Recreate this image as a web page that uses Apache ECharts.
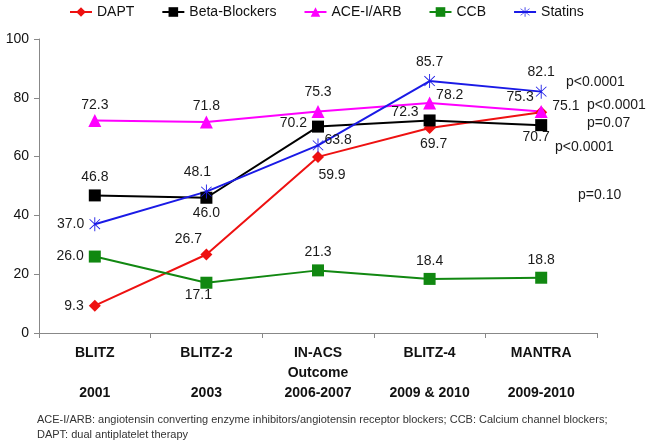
<!DOCTYPE html>
<html><head><meta charset="utf-8">
<script src="https://cdn.jsdelivr.net/npm/echarts@6/dist/echarts.min.js"></script>
<style>html,body{margin:0;padding:0;background:#fff}#c{width:650px;height:445px}</style>
</head><body><div id="c"></div>
<script>
const categories = ['BLITZ\n\n2001', 'BLITZ-2\n\n2003', 'IN-ACS\nOutcome\n2006-2007', 'BLITZ-4\n\n2009 & 2010', 'MANTRA\n\n2009-2010'];
const dapt = [9.3, 26.7, 59.9, 69.7, 75.1];
const betaBlockers = [46.8, 46.0, 70.2, 72.3, 70.7];
const aceArb = [72.3, 71.8, 75.3, 78.2, 75.3];
const ccb = [26.0, 17.1, 21.3, 18.4, 18.8];
const statins = [37.0, 48.1, 63.8, 85.7, 82.1];
const yTicks = [0, 20, 40, 60, 80, 100];
const pValues = ['p<0.0001', 'p<0.0001', 'p=0.07', 'p<0.0001', 'p=0.10'];
const footnote = 'ACE-I/ARB: angiotensin converting enzyme inhibitors/angiotensin receptor blockers; CCB: Calcium channel blockers;\nDAPT: dual antiplatelet therapy';

// label placement styling (position, offset, distance) per point
const labDapt = [['left',[0,0],5],['top',[-18,3],5],['bottom',[14,0],5],['bottom',[4,-2],5],['right',[0,-6],5]];
const labBeta = [['top',[0,0],5],['bottom',[0,-3],5],['left',[0,-3],5],['left',[0,-8],5],['bottom',[-5,-4],3]];
const labAce = [['top',[0,0],2],['top',[0,0],2],['top',[0,0],6],['right',[-5,-8],5],['left',[4,-14],5]];
const labCcb = [['left',[0,0],5],['bottom',[-8,-6],5],['top',[0,0],5],['top',[0,0],5],['top',[0,0],5]];
const labStat = [['left',[0,0],5],['top',[-9,0],5],['right',[-4,-5],5],['top',[0,0],5],['top',[0,0],5]];

const FONT = '"Liberation Sans", Arial, sans-serif';
const asterisk = 'path://M-0.6,-10L0.6,-10L0.6,10L-0.6,10Z M-7.4,-6.6L-6.6,-7.4L7.4,6.6L6.6,7.4Z M6.6,-7.4L7.4,-6.6L-6.6,7.4L-7.4,6.6Z';

function mk(values, labs) {
  return values.map((v, i) => ({
    value: v,
    label: { show: true, position: labs[i][0], offset: labs[i][1], distance: labs[i][2],
      formatter: (p) => p.value.toFixed(1) }
  }));
}
function series(name, values, labs, color, symbol, size) {
  return {
    name, type: 'line', data: mk(values, labs), symbol, symbolSize: size,
    lineStyle: { color, width: 2 }, itemStyle: { color },
    label: { color: '#1a1a1a', fontSize: 14, fontFamily: FONT },
    emphasis: { disabled: true }, animation: false, z: 3
  };
}

const chart = echarts.init(document.getElementById('c'), null, { renderer: 'canvas' });
const pPos = [[566, 83], [587, 106], [587, 124], [555, 148], [578, 196]];
chart.setOption({
  animation: false,
  backgroundColor: '#fff',
  legend: {
    top: 0, left: 64, itemGap: 27, itemWidth: 22, itemHeight: 12,
    textStyle: { fontSize: 14, fontFamily: FONT, color: '#111' },
    data: ['DAPT', 'Beta-Blockers', 'ACE-I/ARB', 'CCB', 'Statins']
  },
  grid: { left: 39, right: 53, top: 39, bottom: 112 },
  xAxis: {
    type: 'category', data: categories, boundaryGap: true,
    axisLine: { lineStyle: { color: '#888', width: 1 } },
    axisTick: { show: true, length: 5, lineStyle: { color: '#888' } },
    axisLabel: { fontSize: 14, fontWeight: 'bold', fontFamily: FONT, color: '#111', lineHeight: 20, margin: 10, interval: 0 }
  },
  yAxis: {
    type: 'value', min: yTicks[0], max: yTicks[yTicks.length - 1], interval: 20,
    axisLine: { show: true, lineStyle: { color: '#888' } },
    axisTick: { show: true, length: 5, lineStyle: { color: '#888' } },
    splitLine: { show: false },
    axisLabel: { fontSize: 14, fontFamily: FONT, color: '#111', margin: 10 }
  },
  series: [
    series('DAPT', dapt, labDapt, '#ee1111', 'diamond', 12),
    series('Beta-Blockers', betaBlockers, labBeta, '#000000', 'rect', 12),
    series('ACE-I/ARB', aceArb, labAce, '#ff00ff', 'triangle', 13),
    series('CCB', ccb, labCcb, '#118811', 'rect', 12),
    series('Statins', statins, labStat, '#1a1ae6', asterisk, [11, 14])
  ],
  graphic: pValues.map((t, i) => ({
    type: 'text', left: pPos[i][0], top: pPos[i][1] - 8,
    style: { text: t, fontSize: 14, fontFamily: FONT, fill: '#1a1a1a' }
  })).concat([{
    type: 'text', left: 37, top: 412,
    style: { text: footnote, fontSize: 11, lineHeight: 15, fontFamily: FONT, fill: '#333' }
  }])
});
</script></body></html>
